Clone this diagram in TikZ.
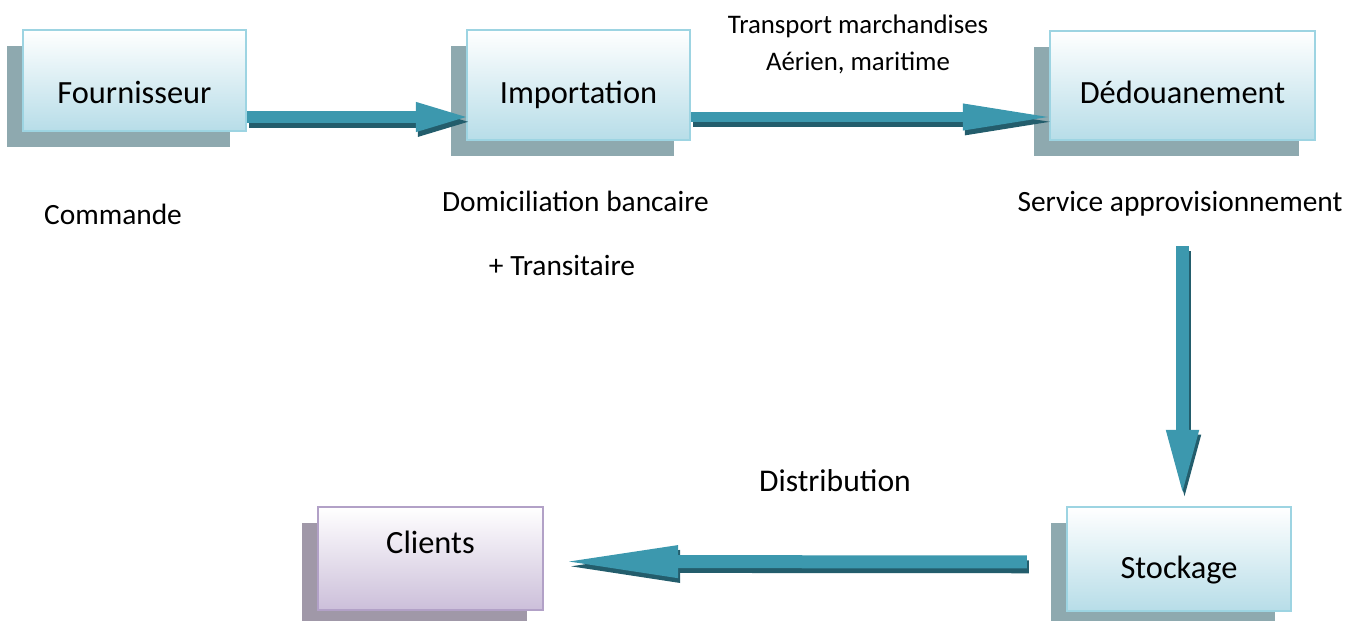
\documentclass[tikz,border=0pt]{standalone}
\usepackage{fontspec}
\setmainfont{Carlito}
\usetikzlibrary{arrows.meta,shadows}
\def\px{0.5pt}
\definecolor{boxblue}{HTML}{B7DDE8}
\definecolor{boxline}{HTML}{9DD4E2}
\definecolor{boxshade}{HTML}{8EA9AF}
\definecolor{cliviolet}{HTML}{CCBFDA}
\definecolor{cliline}{HTML}{B2A1C7}
\definecolor{clishade}{HTML}{A098A8}
\definecolor{arrowteal}{HTML}{3C98AE}
\definecolor{arrowdark}{HTML}{235D6C}

\begin{document}
\begin{tikzpicture}[x=\px,y=-\px]
      \tikzstyle{plain box}=[draw=boxline,line width=1.2pt,top color=white,bottom color=boxblue,inner sep=0pt,text depth=0pt,font=\fontsize{16.2}{19}\selectfont]
      \tikzstyle{box}=[plain box,general shadow={fill=boxshade,shadow xshift=-8pt,shadow yshift=-8pt}]
      \tikzstyle{client box}=[plain box,draw=cliline,bottom color=cliviolet,general shadow={fill=clishade,shadow xshift=-8pt,shadow yshift=-8pt}]
      \tikzstyle{note}=[anchor=base,font=\fontsize{14.7}{17}\selectfont]
      \tikzstyle{small note}=[note,font=\fontsize{13.4}{16}\selectfont]
      \tikzstyle{big note}=[note,font=\fontsize{15.8}{19}\selectfont]

      \useasboundingbox (0,0) rectangle (1362,621);

      % Draw the boxes
      \node[box,minimum width=111.5pt,minimum height=50.5pt,text height=22.5pt] (four) at (134.5,80.5) {Fournisseur};
      \node[box,minimum width=111.5pt,minimum height=55pt,text height=18pt] (imp) at (578.5,85) {Importation};
      \node[box,minimum width=132.5pt,minimum height=54.5pt,text height=17.5pt] (ded) at (1182.5,85.5) {Dédouanement};
      \node[box,minimum width=112pt,minimum height=52pt,text height=19pt] (sto) at (1179,559) {Stockage};
      \node[client box,minimum width=112.5pt,minimum height=51.5pt,text height=0pt,text depth=5.5pt] (cli) at (430.5,558.5) {Clients};

      % Draw the arrows, the dark copy first
      \foreach \col/\dx/\dy in {arrowdark/1pt/-2.4pt,arrowteal/0pt/0pt}
      {
          \begin{scope}[transform canvas={shift={(\dx,\dy)}},draw=\col]
              \draw[line width=6pt,shorten >=-3pt,-{Triangle[length=28pt,width=13pt]}] ([yshift=-18.25pt]four.east) -- ([yshift=-16pt]imp.west);
              \draw[line width=5pt,shorten >=-3pt,-{Triangle[length=46pt,width=12pt]}] ([yshift=-16pt]imp.east) -- ([yshift=-15.75pt]ded.west);
              \draw[line width=6.5pt,shorten <=52.5pt,shorten >=4pt,-{Triangle[length=34pt,width=14.5pt]}] (ded.south) -- (ded.south |- sto.north);
              \draw[line width=6.5pt,shorten <=19.5pt,shorten >=7pt,-{Triangle[length=60pt,width=14.5pt]}] ([yshift=-1.5pt]sto.west) -- ([yshift=-1.5pt]cli.east);
          \end{scope}
      }

      % Annotate the steps
      \node[small note] (trans) at (858,33.5) {Transport marchandises};
      \node[small note] (mode) at (858,70.5) {Aérien, maritime};
      \node[note] (cmd) at (113,224.5) {Commande};
      \node[note] (dom) at (575.5,211.5) {Domiciliation bancaire};
      \node[note] (tra) at (562,275.5) {+ Transitaire};
      \node[note] (serv) at (1180,211.5) {Service approvisionnement};
      \node[big note] (dist) at (835,491) {Distribution};
  \end{tikzpicture}
\end{document}
